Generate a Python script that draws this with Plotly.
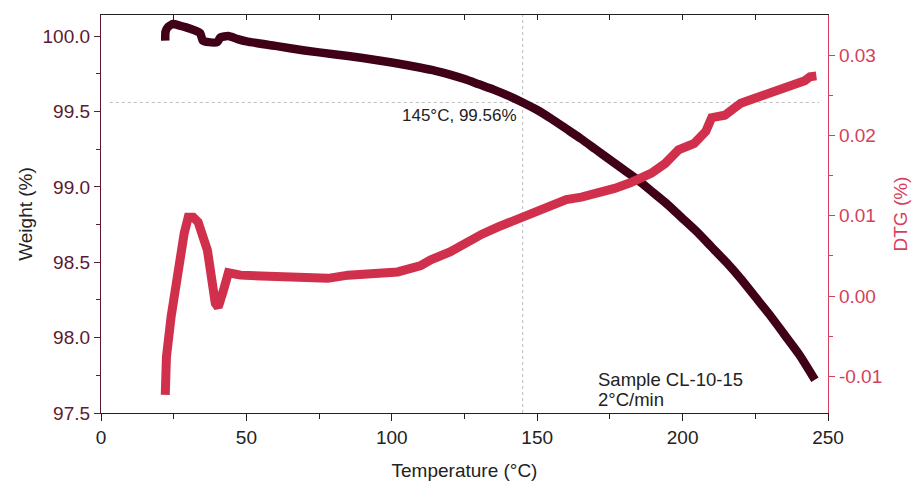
import plotly.graph_objects as go

# Thermogravimetric run: weight loss and its derivative vs temperature
temp_w = [22.1, 22.2, 23.0, 24.8, 27.0, 29.0, 32.0, 34.1, 35.0, 37.0, 40.0, 41.0,
          43.8, 47.0, 50.0, 60.0, 70.0, 80.0, 90.0, 100.0, 110.0, 115.0, 120.0,
          125.0, 130.0, 135.0, 140.0, 145.0, 150.0, 155.0, 160.0, 165.0, 170.0,
          175.0, 180.0, 185.0, 190.0, 195.0, 200.0, 205.0, 210.0, 215.0, 220.0,
          225.0, 230.0, 235.0, 240.0, 245.5]
weight = [99.97, 100.03, 100.06, 100.08, 100.07, 100.06, 100.04, 100.02, 99.97,
          99.96, 99.96, 99.99, 100.00, 99.98, 99.965, 99.935, 99.905, 99.88,
          99.855, 99.825, 99.79, 99.77, 99.745, 99.715, 99.68, 99.645, 99.605,
          99.56, 99.51, 99.45, 99.385, 99.32, 99.25, 99.18, 99.11, 99.04, 98.96,
          98.88, 98.79, 98.70, 98.60, 98.50, 98.39, 98.27, 98.15, 98.02, 97.89,
          97.72]

temp_d = [22.1, 22.5, 24.1, 25.5, 26.9, 28.6, 30.0, 31.7, 33.4, 36.6, 39.3, 40.3,
          42.1, 43.8, 48.0, 55.0, 62.0, 70.0, 78.0, 85.0, 96.0, 102.0, 110.0,
          113.4, 120.0, 124.8, 131.0, 136.6, 142.0, 144.5, 150.0, 153.8, 160.0,
          165.2, 170.0, 176.6, 182.0, 185.9, 189.3, 194.0, 198.6, 204.0, 208.0,
          210.0, 214.5, 220.0, 227.0, 232.0, 237.6, 242.0, 243.8, 246.0]
dtg = [-0.0123, -0.0076, -0.0026, 0.0007, 0.0049, 0.0078, 0.0098, 0.0098, 0.0092,
       0.0057, -0.0009, -0.0014, 0.0007, 0.0029, 0.0026, 0.0025, 0.0024, 0.0023,
       0.0022, 0.0026, 0.0030, 0.0030, 0.0038, 0.0045, 0.0055, 0.0066, 0.0077,
       0.0086, 0.0094, 0.0097, 0.0106, 0.0113, 0.0120, 0.0123, 0.0127, 0.0134,
       0.0141, 0.0147, 0.0153, 0.0165, 0.0182, 0.0190, 0.0205, 0.0222, 0.0225,
       0.0240, 0.0248, 0.0255, 0.0263, 0.0268, 0.0273, 0.0274]

marker_t = 145
marker_w = 99.56
point_label = "145°C, 99.56%"
sample_lines = ["Sample CL-10-15", "2°C/min"]

x_ticks = [0, 50, 100, 150, 200, 250]
w_ticks = [97.5, 98.0, 98.5, 99.0, 99.5, 100.0]
d_ticks = [-0.01, 0.0, 0.01, 0.02, 0.03]

W_COLOR = "#3f0018"
W_AXIS = "#5c1a33"
D_COLOR = "#d0304c"
D_AXIS = "#d63f5b"
FONT = "Liberation Sans, Arial, sans-serif"

fig = go.Figure()
fig.add_trace(go.Scatter(x=temp_w, y=weight, mode="lines", yaxis="y",
                         line=dict(color=W_COLOR, width=8.5, shape="spline", smoothing=0.6),
                         hoverinfo="skip"))
fig.add_trace(go.Scatter(x=temp_d, y=dtg, mode="lines", yaxis="y2",
                         line=dict(color=D_COLOR, width=9), hoverinfo="skip"))
# invisible trace so the top frame axis is drawn
fig.add_trace(go.Scatter(x=[0, 250], y=[97.6, 97.6], xaxis="x2", mode="lines",
                         line=dict(width=0), opacity=0, hoverinfo="skip"))

fig.update_layout(
    width=912, height=484,
    margin=dict(l=101, r=84, t=15, b=71),
    paper_bgcolor="white", plot_bgcolor="white",
    showlegend=False,
    font=dict(family=FONT, size=19, color="#222222"),
    xaxis=dict(
        range=[0, 250], tickvals=x_ticks, ticks="outside", ticklen=7,
        tickcolor="#222222", showline=True, linecolor="#222222", linewidth=1.2,
        showgrid=False, zeroline=False, automargin=False,
        minor=dict(dtick=25, tick0=0, ticks="outside", ticklen=5, tickcolor="#222222"),
        tickfont=dict(size=19, color="#222222"),
        title=dict(text="Temperature (°C)", font=dict(size=19, color="#222222"), standoff=16),
    ),
    xaxis2=dict(
        range=[0, 250], overlaying="x", side="top", dtick=25, tick0=0,
        ticks="inside", ticklen=5, tickcolor="#222222", showticklabels=False,
        showline=True, linecolor="#222222", linewidth=1.2, showgrid=False,
        zeroline=False, automargin=False,
    ),
    yaxis=dict(
        range=[97.5, 100.14], tickvals=w_ticks, ticktext=[f"{v:.1f}" for v in w_ticks],
        ticks="outside", ticklen=6, tickcolor=W_AXIS,
        showline=True, linecolor=W_AXIS, linewidth=1.2, showgrid=False,
        zeroline=False, automargin=False,
        minor=dict(dtick=0.25, tick0=97.5, ticks="outside", ticklen=4, tickcolor=W_AXIS),
        tickfont=dict(size=19, color=W_AXIS),
        title=dict(text="Weight (%)", font=dict(size=19, color="#222222"), standoff=4),
    ),
    yaxis2=dict(
        range=[-0.01456, 0.03498], tickvals=d_ticks,
        ticktext=[f"{v:.2f}" for v in d_ticks],
        overlaying="y", side="right", anchor="x",
        ticks="outside", ticklen=6, tickcolor=D_AXIS,
        showline=True, linecolor=D_AXIS, linewidth=1.2, showgrid=False,
        zeroline=False, automargin=False,
        minor=dict(dtick=0.005, tick0=0, ticks="outside", ticklen=4, tickcolor=D_AXIS),
        tickfont=dict(size=19, color=D_AXIS),
        title=dict(text="DTG (%)", font=dict(size=19, color=D_AXIS), standoff=12),
    ),
)

# cross-hair at the read-out point
fig.add_shape(type="line", xref="x", yref="y", x0=3, x1=247, y0=marker_w, y1=marker_w,
              line=dict(color="#bbbbbb", width=1, dash="dot"), layer="below")
fig.add_shape(type="line", xref="x", yref="paper", x0=marker_t, x1=marker_t, y0=0, y1=1,
              line=dict(color="#bbbbbb", width=1, dash="dot"), layer="below")

fig.add_annotation(x=143.8, y=99.475, xref="x", yref="y", text=point_label,
                   showarrow=False, xanchor="right", yanchor="middle",
                   font=dict(size=17, color="#222222"))
fig.add_annotation(x=170.3, y=97.725, xref="x", yref="y", text=sample_lines[0],
                   showarrow=False, xanchor="left", yanchor="middle",
                   font=dict(size=18.5, color="#222222"))
fig.add_annotation(x=170.3, y=97.59, xref="x", yref="y", text=sample_lines[1],
                   showarrow=False, xanchor="left", yanchor="middle",
                   font=dict(size=18.5, color="#222222"))

fig.write_html("out.html")
